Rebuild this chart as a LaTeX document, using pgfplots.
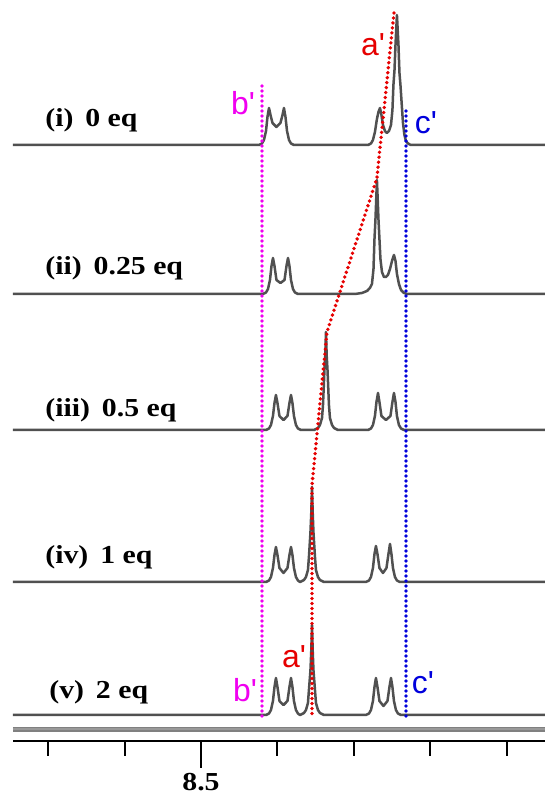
\documentclass[border=0pt]{standalone}
\usepackage{fontspec}
\setmainfont{Liberation Serif}
\newfontfamily\sansf{Liberation Sans}
\usepackage{pgfplots}
\pgfplotsset{compat=1.18}

\definecolor{spec}{RGB}{80,80,80}
\definecolor{mag}{RGB}{240,0,240}
\definecolor{blu}{RGB}{0,0,220}
\definecolor{rd}{RGB}{230,0,0}

\tikzset{
  dotline/.style={line width=1.9bp, line cap=round, dash pattern=on 0pt off 2.5bp},
  lab/.style={font=\bfseries\fontsize{13}{13}\selectfont, anchor=west, inner sep=0pt},
  peak/.style={font=\sansf\fontsize{16}{16}\selectfont, inner sep=0pt},
}
\newcommand{\pr}{\textquotesingle}

\begin{document}
\begin{tikzpicture}
\useasboundingbox (0,0) rectangle (272.5bp,398bp);
\begin{axis}[
    at={(6.5bp,27.65bp)}, anchor=south west,
    scale only axis,
    width=266bp, height=370.35bp,
    xmin=8.0497, xmax=8.7461,
    ymin=55.3, ymax=796,
    x dir=reverse,
    clip=false,
    axis x line=bottom,
    axis y line=none,
    axis line style={-, black, line width=1bp},
    xtick={8.5},
    minor xtick={8.1,8.2,8.3,8.4,8.6,8.7},
    xticklabels={},
    tick align=outside,
    tick style={black, line width=1bp},
    major tick length=13.5bp,
    minor tick length=7.5bp,
]

% (i) 0 eq
\addplot[spec, line width=1.25bp, line join=round] coordinates {
(8.7461,651) (8.4241,651) (8.4202,652.5) (8.4176,656) (8.4149,665) (8.4130,679)
(8.4110,688) (8.4090,681) (8.4064,673) (8.4012,669) (8.3960,673) (8.3933,681)
(8.3914,688) (8.3894,679) (8.3874,665) (8.3848,656) (8.3822,652.5) (8.3783,651)
(8.2814,651) (8.2775,652.5) (8.2749,656) (8.2723,664) (8.2697,677) (8.2677,684)
(8.2657,688) (8.2638,681) (8.2618,671) (8.2592,665) (8.2566,663) (8.2539,665)
(8.2513,671) (8.2494,686) (8.2481,711) (8.2467,726) (8.2454,751) (8.2435,781)
(8.2415,751) (8.2402,723) (8.2389,711) (8.2376,696) (8.2356,673) (8.2337,661)
(8.2317,655) (8.2291,652.5) (8.2252,651) (8.0497,651)
};

% (ii) 0.25 eq
\addplot[spec, line width=1.25bp, line join=round] coordinates {
(8.7461,502) (8.4189,502) (8.4149,503.5) (8.4123,507) (8.4097,516) (8.4077,530)
(8.4058,538) (8.4038,530) (8.4012,516) (8.3960,513) (8.3907,516) (8.3881,530)
(8.3861,538) (8.3842,530) (8.3822,516) (8.3796,507) (8.3770,503.5) (8.3731,502)
(8.2985,502) (8.2893,503) (8.2827,505) (8.2788,508) (8.2762,512) (8.2742,527)
(8.2729,557) (8.2716,577) (8.2706,597) (8.2697,616) (8.2687,597) (8.2677,577)
(8.2664,557) (8.2651,537) (8.2631,524) (8.2605,519) (8.2579,519) (8.2553,521)
(8.2526,527) (8.2500,535) (8.2474,541) (8.2454,535) (8.2435,522) (8.2409,512)
(8.2382,506) (8.2343,503) (8.2304,502) (8.0497,502)
};

% (iii) 0.5 eq
\addplot[spec, line width=1.25bp, line join=round] coordinates {
(8.7461,366) (8.4149,366) (8.4110,367.5) (8.4084,371) (8.4058,380) (8.4038,393)
(8.4019,401) (8.3999,393) (8.3973,380) (8.3920,376) (8.3868,380) (8.3842,393)
(8.3822,401) (8.3803,393) (8.3783,380) (8.3757,371) (8.3731,367.5) (8.3691,366)
(8.3521,366) (8.3469,368) (8.3443,371) (8.3416,378) (8.3403,391) (8.3384,426)
(8.3373,441) (8.3364,464) (8.3355,441) (8.3344,426) (8.3325,391) (8.3312,378)
(8.3285,371) (8.3259,368) (8.3207,366)
(8.2814,366) (8.2775,367.5) (8.2749,371) (8.2723,380) (8.2703,394) (8.2683,403)
(8.2664,394) (8.2638,380) (8.2579,376) (8.2520,380) (8.2494,394) (8.2474,403)
(8.2454,394) (8.2435,380) (8.2409,371) (8.2382,367.5) (8.2343,366) (8.0497,366)
};

% (iv) 1 eq
\addplot[spec, line width=1.25bp, line join=round] coordinates {
(8.7461,214) (8.4149,214) (8.4110,215.5) (8.4084,219) (8.4058,228) (8.4038,241)
(8.4019,249) (8.3999,241) (8.3973,228) (8.3920,223) (8.3868,228) (8.3842,241)
(8.3822,249) (8.3803,241) (8.3783,228) (8.3757,219) (8.3731,215.5) (8.3704,214)
(8.3652,216) (8.3626,219) (8.3600,226) (8.3587,239) (8.3567,264) (8.3556,284)
(8.3547,309) (8.3538,284) (8.3528,264) (8.3508,239) (8.3495,226) (8.3469,219)
(8.3443,216) (8.3390,214)
(8.2841,214) (8.2801,215.5) (8.2775,219) (8.2749,228) (8.2729,242) (8.2710,250)
(8.2690,242) (8.2664,228) (8.2618,223) (8.2572,228) (8.2546,242) (8.2526,252)
(8.2507,242) (8.2487,228) (8.2461,219) (8.2435,215.5) (8.2396,214) (8.0497,214)
};

% (v) 2 eq
\addplot[spec, line width=1.25bp, line join=round] coordinates {
(8.7461,81) (8.4149,81) (8.4110,82.5) (8.4084,86) (8.4058,95) (8.4038,109)
(8.4019,118) (8.3999,109) (8.3973,95) (8.3920,91) (8.3868,95) (8.3842,109)
(8.3822,118) (8.3803,109) (8.3783,95) (8.3757,86) (8.3731,82.5) (8.3704,81)
(8.3652,83) (8.3626,86) (8.3600,93) (8.3587,106) (8.3567,126) (8.3556,146)
(8.3547,171) (8.3538,146) (8.3528,126) (8.3508,106) (8.3495,93) (8.3469,86)
(8.3443,83) (8.3390,81)
(8.2841,81) (8.2801,82.5) (8.2775,86) (8.2749,95) (8.2729,109) (8.2710,118)
(8.2690,109) (8.2664,95) (8.2611,90) (8.2559,95) (8.2533,109) (8.2513,118)
(8.2494,109) (8.2474,95) (8.2448,86) (8.2422,82.5) (8.2382,81) (8.0497,81)
};

% grey frame line above the scale
\addplot[draw=black!50, double=black!40, double distance=1bp, line width=0.8bp]
  coordinates {(8.7461,66.5) (8.0497,66.5)};

% guide lines
\addplot[mag, dotline] coordinates {(8.4202,80) (8.4202,711)};
\addplot[blu, dotline] coordinates {(8.2317,80) (8.2317,689)};
\addplot[rd, dotline] coordinates {
(8.2474,783) (8.2697,618) (8.3351,464) (8.3547,311) (8.3547,80)
};

% labels
\node[lab] at (axis cs:8.7042,676) {\scalebox{1.15}[1]{(i)\hspace{0.4em}0 eq}};
\node[lab] at (axis cs:8.7042,528) {\scalebox{1.15}[1]{(ii)\hspace{0.4em}0.25 eq}};
\node[lab] at (axis cs:8.7042,386) {\scalebox{1.15}[1]{(iii)\hspace{0.4em}0.5 eq}};
\node[lab] at (axis cs:8.7042,239) {\scalebox{1.15}[1]{(iv)\hspace{0.4em}1 eq}};
\node[lab] at (axis cs:8.6990,104) {\scalebox{1.15}[1]{(v)\hspace{0.4em}2 eq}};

\node[peak, text=mag] at (axis cs:8.4450,693) {b\pr};
\node[peak, text=mag] at (axis cs:8.4424,106) {b\pr};
\node[peak, text=blu] at (axis cs:8.2055,673) {c\pr};
\node[peak, text=blu] at (axis cs:8.2094,113) {c\pr};
\node[peak, text=rd] at (axis cs:8.2749,751) {a\pr};
\node[peak, text=rd] at (axis cs:8.3783,139) {a\pr};

\node[font=\bfseries\fontsize{13}{13}\selectfont, inner sep=0pt] at (axis cs:8.5,14)
  {\scalebox{1.15}[1]{8.5}};
\end{axis}
\end{tikzpicture}
\end{document}
